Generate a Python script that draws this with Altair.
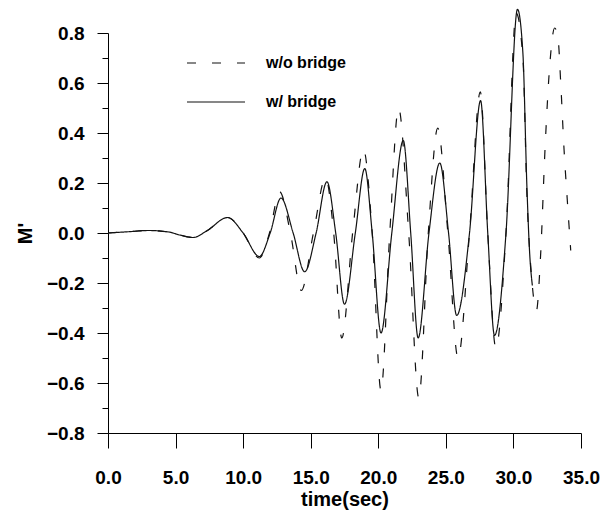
import altair as alt
import pandas as pd

# ---- data ----
series_names = ["w/o bridge", "w/ bridge"]

solid_t = [0, 1.5, 3.0, 4.5, 5.3, 6.3, 7.3, 8.85, 10.0, 11.2, 12.0, 12.8, 13.7, 14.55,
           15.4, 16.2, 16.85, 17.5, 18.3, 19.0, 19.55, 20.2, 21.0, 21.85, 22.4, 22.95,
           23.75, 24.55, 25.2, 25.8, 26.75, 27.57, 28.1, 28.6, 29.45, 30.3, 30.7, 31.0,
           31.2, 31.4]
solid_m = [0, 0.005, 0.01, 0.004, -0.008, -0.018, 0.008, 0.062, 0.0, -0.094, 0.0, 0.14,
           0.0, -0.155, 0.0, 0.205, 0.0, -0.285, 0.0, 0.258, 0.0, -0.40, 0.0, 0.37, 0.0,
           -0.42, 0.0, 0.28, 0.0, -0.33, 0.0, 0.53, 0.0, -0.41, 0.0, 0.895, 0.72, 0.18,
           -0.08, -0.21]

dash_t = [0, 1.5, 3.0, 4.5, 5.3, 6.3, 7.3, 8.85, 10.0, 11.2, 11.95, 12.7, 13.5, 14.3,
          15.2, 16.1, 16.7, 17.3, 18.1, 18.9, 19.55, 20.2, 20.85, 21.5, 22.25, 23.0, 23.7,
          24.4, 25.15, 25.9, 26.75, 27.55, 28.1, 28.7, 29.45, 30.2, 30.7, 31.0, 31.35,
          31.7, 32.0, 32.35, 32.7, 33.05, 33.3, 33.5, 33.75, 34.0, 34.24]
dash_m = [0, 0.005, 0.01, 0.004, -0.008, -0.018, 0.008, 0.062, 0.0, -0.10, 0.0, 0.165,
          0.0, -0.23, 0.0, 0.22, 0.0, -0.42, 0.0, 0.335, 0.0, -0.63, 0.0, 0.50, 0.0, -0.66,
          0.0, 0.42, 0.0, -0.50, 0.0, 0.565, 0.0, -0.46, 0.0, 0.88, 0.70, 0.15, -0.18,
          -0.31, -0.10, 0.35, 0.68, 0.82, 0.78, 0.60, 0.33, 0.12, -0.07]

x_ticks = [0, 5, 10, 15, 20, 25, 30, 35]
y_major = [-0.8, -0.6, -0.4, -0.2, 0.0, 0.2, 0.4, 0.6, 0.8]
y_minor = [-0.7, -0.5, -0.3, -0.1, 0.1, 0.3, 0.5, 0.7]

df = pd.concat([
    pd.DataFrame({"t": dash_t, "m": dash_m, "series": series_names[0]}),
    pd.DataFrame({"t": solid_t, "m": solid_m, "series": series_names[1]}),
], ignore_index=True)

FONT = "Liberation Sans"
AX = dict(domainColor="black", tickColor="black", domainWidth=1, tickWidth=1,
          labelFont=FONT, labelFontSize=19, labelFontWeight="bold", labelColor="black",
          titleFont=FONT, titleFontSize=20, titleFontWeight="bold", titleColor="black",
          grid=False, labelFlush=False, labelOverlap=False)

xscale = alt.Scale(domain=[0, 35], nice=False, zero=False)
yscale = alt.Scale(domain=[-0.8, 0.8], nice=False, zero=False)

lines = alt.Chart(df).mark_line(
    color="#111111", strokeWidth=1.2, interpolate="monotone"
).encode(
    x=alt.X("t:Q", scale=xscale,
            axis=alt.Axis(values=x_ticks, format=".1f", title="time(sec)",
                          tickSize=15, labelPadding=20,
                          titleY=72, titleBaseline="alphabetic", **AX)),
    y=alt.Y("m:Q", scale=yscale,
            axis=alt.Axis(values=y_major, format=".1f", title="M'", orient="left",
                          tickSize=11, labelPadding=13,
                          titleX=-83, titleY=200, titleAngle=270,
                          titleAlign="center", titleBaseline="middle", **AX)),
    strokeDash=alt.StrokeDash(
        "series:N",
        scale=alt.Scale(domain=series_names, range=[[9, 16], [1, 0]]),
        legend=alt.Legend(orient="none", legendX=78, legendY=22, title=None,
                          symbolType="stroke", symbolSize=3364,
                          symbolStrokeWidth=1.2, symbolStrokeColor="#111111",
                          clipHeight=16, rowPadding=23, labelOffset=20,
                          labelFont=FONT, labelFontSize=16, labelFontWeight="bold",
                          labelColor="black", padding=0),
    ),
)

minor = alt.Chart(df).mark_point(opacity=0).encode(
    y=alt.Y("m:Q", scale=yscale,
            axis=alt.Axis(values=y_minor, labels=False, domain=False, tickSize=6,
                          title=None, orient="left", tickColor="black", tickWidth=1,
                          grid=False)),
)

chart = alt.layer(lines, minor).resolve_axis(y="independent").properties(
    width=473, height=400,
    autosize=alt.AutoSizeParams(type="none"),
    padding={"left": 108, "top": 33, "right": 25, "bottom": 84},
    background="white",
).configure_view(stroke=None).configure_legend(
    labelFont=FONT, labelFontSize=16, labelFontWeight="bold", labelColor="black",
    labelLimit=300,
)

chart.save("out.html", embed_options={"renderer": "svg", "actions": False})
